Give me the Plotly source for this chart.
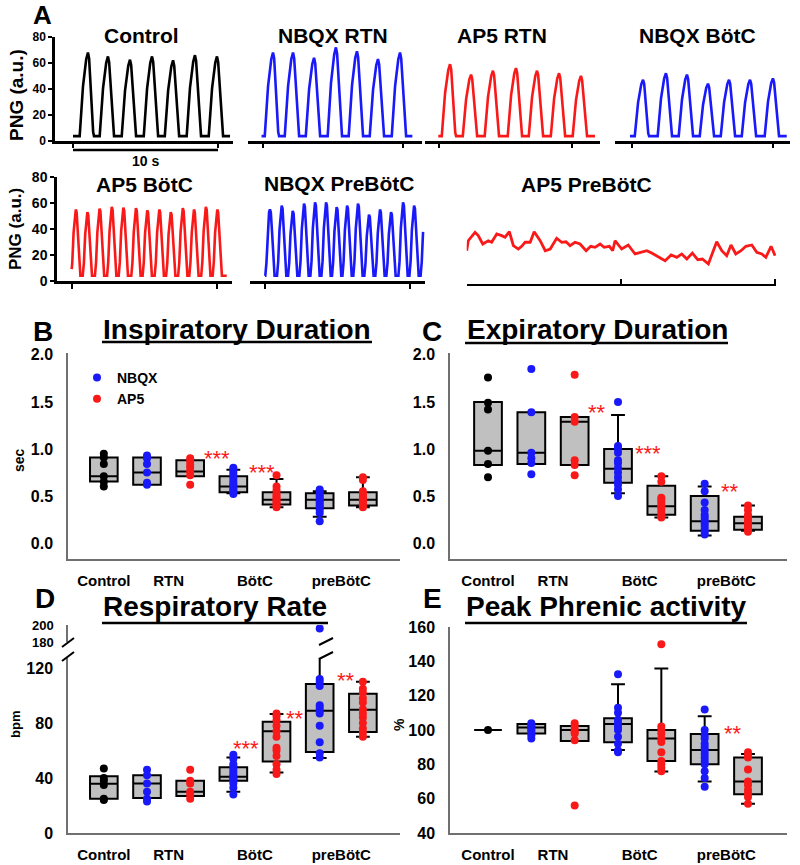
import numpy as np
import plotly.graph_objects as go

W, H = 800, 865
FONT = "Liberation Sans"
BLUE = "rgb(25,25,250)"
RED = "rgb(250,25,25)"
BLACK = "black"
GRAY_FILL = "#c0c0c0"
AXIS_GRAY = "#707070"


def fx(p):
    return p / W


def fy(p):
    return 1 - p / H


def bfont(size, color="black"):
    return dict(family=FONT, size=size, color=color, weight="bold")


# ================= Panel A data: PNG bursts (time s, amplitude a.u.) =================
CTRL_PEAK_T = [1.03, 2.41, 3.93, 5.45, 6.90, 8.41, 9.93]
CTRL_PEAK_A = [68, 65, 62.5, 65, 62, 66, 65]
NBQX_RTN_PEAK_T = [0.69, 2.07, 3.52, 5.03, 6.48, 7.93, 9.45]
NBQX_RTN_PEAK_A = [68, 68, 64, 72, 69, 63, 68]
AP5_RTN_PEAK_T = [0.76, 2.21, 3.72, 5.31, 6.76, 8.28, 9.79]
AP5_RTN_PEAK_A = [59, 51, 54, 56, 54, 52, 50]
NBQX_BOTC_PEAK_T = [0.76, 2.34, 3.79, 5.24, 6.69, 8.14, 9.72]
NBQX_BOTC_PEAK_A = [47, 52, 51, 44, 47, 47, 48]
AP5_BOTC_PEAK_T = [0.28, 1.08, 1.92, 2.76, 3.56, 4.43, 5.21, 6.04, 6.83, 7.66, 8.43, 9.25, 10.04]
AP5_BOTC_PEAK_A = [55, 53, 55.7, 57, 56.5, 56, 54.4, 55, 53, 56, 55, 57, 55]
NBQX_PRE_PEAK_T = [0.34, 1.15, 1.91, 2.69, 3.45, 4.21, 4.94, 5.66, 6.41, 7.17,
                   7.93, 8.69, 9.52, 10.28, 11.05]
NBQX_PRE_PEAK_A = [55, 58, 54, 59.5, 60.4, 60.4, 56.9, 58, 59.5, 51,
                   55, 53, 60.4, 58, 56]

# AP5 PreBötC: irregular low-amplitude activity (time s, a.u.)
AP5_PRE_T = [0.00, 0.10, 0.54, 0.75, 1.04, 1.40, 1.62, 1.95, 2.27, 2.49, 2.77, 3.03,
             3.35, 3.57, 3.79, 4.12, 4.38, 4.77, 5.10, 5.42, 5.84, 6.17, 6.45, 6.71,
             7.03, 7.36, 7.75, 8.05, 8.33, 8.66, 8.92, 9.26, 9.48, 9.63,
             10.06, 10.49, 10.93, 11.25, 11.69, 12.01, 12.34, 12.88, 13.27, 13.64,
             13.96, 14.29, 14.65, 15.00, 15.30, 15.69, 16.01, 16.23, 16.56, 16.88,
             17.16, 17.47, 17.81, 18.12, 18.51, 18.83, 19.16, 19.42, 19.76, 20.02]
AP5_PRE_V = [25.6, 33.3, 39.8, 37.2, 30.8, 33.3, 32.1, 38.5, 37.2, 36.0, 40.2, 29.5,
             26.9, 29.0, 32.1, 32.1, 40.2, 33.3, 25.6, 26.9, 35.2, 32.1, 32.5, 29.5,
             32.1, 30.8, 25.6, 29.0, 28.2, 30.8, 28.2, 29.0, 25.6, 33.3,
             26.9, 30.0, 23.1, 24.4, 25.6, 23.8, 21.8, 17.9, 22.3, 20.5,
             23.1, 19.2, 23.8, 18.7, 19.2, 15.4, 25.6, 32.5, 25.6, 21.8,
             30.0, 23.1, 25.6, 29.0, 30.0, 24.4, 23.1, 20.5, 29.0, 21.8]

PNG_TICKS = [0, 20, 40, 60, 80]

# burst waveform templates (time offset from peak, fraction of peak height)
SLOW_DT = [-0.57, -0.34, -0.12, 0.0, 0.08, 0.36, 0.42]
SLOW_F = [0.0, 0.6, 0.92, 1.0, 0.93, 0.05, 0.0]
FAST_DT = [-0.32, -0.24, -0.15, -0.06, 0.0, 0.06, 0.15, 0.24, 0.32]
FAST_F = [0.0, 0.2, 0.65, 0.96, 1.0, 0.96, 0.65, 0.2, 0.0]

# ================= Panels B-E data =================
POS = [1, 2, 3, 4, 5, 6, 7]
CAT_POS = [1, 2.5, 4.5, 6.5]
CAT_LABELS = ["Control", "RTN", "BötC", "preBötC"]
GROUP = ["ctrl", "nbqx", "ap5", "nbqx", "ap5", "nbqx", "ap5"]

# B: Inspiratory duration (s)
TI_Q1 = [0.655, 0.62, 0.71, 0.54, 0.41, 0.37, 0.40]
TI_MED = [0.71, 0.75, 0.76, 0.60, 0.46, 0.46, 0.46]
TI_Q3 = [0.91, 0.91, 0.88, 0.71, 0.54, 0.53, 0.54]
TI_LO = [0.655, 0.62, 0.71, 0.53, 0.38, 0.28, 0.38]
TI_HI = [0.91, 0.91, 0.88, 0.78, 0.68, 0.55, 0.70]
TI_PTS = [
    [0.95, 0.91, 0.84, 0.71, 0.65, 0.60],
    [0.93, 0.90, 0.84, 0.75, 0.64, 0.62],
    [0.90, 0.87, 0.83, 0.80, 0.76, 0.72, 0.62],
    [0.80, 0.78, 0.75, 0.72, 0.70, 0.67, 0.64, 0.62, 0.60, 0.58, 0.56, 0.54, 0.52],
    [0.72, 0.60, 0.56, 0.52, 0.50, 0.48, 0.46, 0.44, 0.42, 0.40, 0.38],
    [0.57, 0.55, 0.52, 0.50, 0.48, 0.46, 0.44, 0.42, 0.40, 0.38, 0.35, 0.32, 0.23],
    [0.70, 0.67, 0.55, 0.52, 0.50, 0.48, 0.46, 0.44, 0.42, 0.40, 0.38],
]
TI_STARS = [("***", 3.62, 0.96), ("***", 4.66, 0.81)]

# C: Expiratory duration (s)
TE_Q1 = [0.83, 0.84, 0.83, 0.64, 0.30, 0.13, 0.14]
TE_MED = [0.98, 0.96, 1.29, 0.79, 0.39, 0.23, 0.21]
TE_Q3 = [1.50, 1.39, 1.34, 1.00, 0.61, 0.50, 0.28]
TE_LO = [0.83, 0.84, 0.83, 0.53, 0.27, 0.08, 0.13]
TE_HI = [1.50, 1.39, 1.34, 1.36, 0.71, 0.60, 0.40]
TE_PTS = [
    [1.76, 1.49, 1.42, 0.98, 0.84, 0.70],
    [1.85, 1.39, 0.96, 0.90, 0.85, 0.73],
    [1.79, 1.34, 1.29, 0.88, 0.83, 0.72],
    [1.50, 1.03, 1.00, 0.96, 0.88, 0.85, 0.80, 0.75, 0.70, 0.65, 0.62, 0.57, 0.50],
    [0.71, 0.65, 0.48, 0.46, 0.43, 0.40, 0.38, 0.35, 0.32, 0.29, 0.27],
    [0.63, 0.55, 0.43, 0.35, 0.30, 0.27, 0.24, 0.21, 0.18, 0.15, 0.12, 0.09],
    [0.40, 0.35, 0.30, 0.27, 0.24, 0.21, 0.19, 0.17, 0.15, 0.12],
]
TE_STARS = [("**", 3.52, 1.45), ("***", 4.69, 1.02), ("**", 6.58, 0.61)]

# D: Respiratory rate (bpm)
RR_Q1 = [25.0, 25.5, 27, 38, 52, 59, 73.5]
RR_MED = [35.9, 36, 30, 41, 74, 89, 89.7]
RR_Q3 = [41.2, 42, 38, 47.8, 81, 108.4, 101.3]
RR_LO = [25.0, 25.5, 27, 30, 44, 54.5, 70]
RR_HI = [41.2, 42, 38, 55, 86.5, 140, 110]
RR_PTS = [
    [47, 40, 38, 35, 25, 24],
    [46, 42, 36, 30, 25, 23],
    [46, 38, 36, 30, 28, 25],
    [57, 54, 50, 48, 46, 44, 42, 41, 40, 39, 38, 36, 33, 28],
    [87, 85, 82, 78, 74, 70, 62, 60, 56, 50, 46, 43],
    [112, 110, 107, 93, 91, 89, 87, 78, 66, 58, 55, 196],
    [110, 105, 102, 98, 95, 90, 87, 84, 80, 76, 73, 70],
]
RR_STARS = [("***", 4.29, 66), ("**", 5.43, 88), ("**", 6.61, 115.6)]
RR_LOW_TICKS = [0, 40, 80, 120]
RR_HIGH_TICKS = [180, 200]
RR_BREAK = 150  # values above this are drawn on the upper (broken) axis segment

# E: Peak phrenic activity (%)
PK_Q1 = [100, 98, 93.6, 92.8, 82, 80, 62.6]
PK_MED = [100, 101.5, 100, 103.5, 95, 88.4, 70]
PK_Q3 = [100, 103.5, 102.3, 106.8, 100, 97.7, 84]
PK_LO = [100, 98, 93.6, 88.4, 75.8, 70, 57]
PK_HI = [100, 103.5, 102.3, 126.7, 135.8, 108, 86]
PK_PTS = [
    [100],
    [104, 103, 102, 101, 100, 99, 97, 95],
    [104, 102, 100, 99, 98, 94, 56],
    [132.5, 113, 110, 106, 104, 102, 100, 96, 92, 88, 87],
    [150, 102, 100, 98, 95, 93, 87, 82, 80, 78, 76],
    [112, 100, 97, 95, 92, 90, 88, 86, 84, 82, 80, 76, 72, 67],
    [87, 85, 84, 77, 70, 68, 65, 63, 61, 57],
]
PK_STARS = [("**", 6.65, 101.7)]

GROUP_COLOR = {"ctrl": BLACK, "nbqx": BLUE, "ap5": RED}
GROUP_NAME = {"ctrl": "Control", "nbqx": "NBQX", "ap5": "AP5"}


def burst_trace(peak_t, peak_a, base, t0, t1, dts, fs):
    ts, vs = [], []
    for pt, pa in zip(peak_t, peak_a):
        for dt, f in zip(dts, fs):
            ts.append(pt + dt)
            vs.append(base + f * (pa - base))
    ts = np.array(ts)
    vs = np.array(vs)
    order = np.argsort(ts, kind="stable")
    ts, vs = ts[order], vs[order]
    full_t = np.concatenate([[t0 - 50], ts, [t1 + 50]])
    full_v = np.concatenate([[base], vs, [base]])
    grid = np.concatenate([[t0], ts[(ts > t0) & (ts < t1)], [t1]])
    return grid, np.interp(grid, full_t, full_v)


fig = go.Figure()
axes_layout = {}
counter = [0]


def new_axes(xdom, ydom, xcfg, ycfg):
    counter[0] += 1
    n = counter[0]
    s = "" if n == 1 else str(n)
    base = dict(showgrid=False, zeroline=False, fixedrange=True)
    axes_layout["xaxis" + s] = dict(domain=[fx(xdom[0]), fx(xdom[1])], anchor="y" + s, **base, **xcfg)
    axes_layout["yaxis" + s] = dict(domain=[fy(ydom[1]), fy(ydom[0])], anchor="x" + s, **base, **ycfg)
    return "x" + s, "y" + s


# ---------------- Panel A ----------------
PX_PER_S = 14.5
TRACE_PANELS = [
    dict(peaks=(CTRL_PEAK_T, CTRL_PEAK_A), color=BLACK, kind="slow", t=(0, 10.83),
         xdom=(55, 233), ydom=(37, 140.7), zero=73, ticks=[0, 10], yaxis=12),
    dict(peaks=(NBQX_RTN_PEAK_T, NBQX_RTN_PEAK_A), color=BLUE, kind="slow", t=(-0.1, 10.3),
         xdom=(248, 422), ydom=(37, 140.7), zero=263, ticks=[0, 9.66], yaxis=None),
    dict(peaks=(AP5_RTN_PEAK_T, AP5_RTN_PEAK_A), color=RED, kind="slow", t=(-0.05, 10.76),
         xdom=(425, 600), ydom=(37, 140.7), zero=439, ticks=[0, 9.17], yaxis=None),
    dict(peaks=(NBQX_BOTC_PEAK_T, NBQX_BOTC_PEAK_A), color=BLUE, kind="slow", t=(-0.14, 10.67),
         xdom=(615, 790), ydom=(37, 140.7), zero=632, ticks=[0, 9.72], yaxis=None),
    dict(peaks=(AP5_BOTC_PEAK_T, AP5_BOTC_PEAK_A), color=RED, kind="fast", t=(0, 10.69),
         xdom=(57, 232), ydom=(177, 281), zero=71.7, ticks=[0, 10], yaxis=14),
    dict(peaks=(NBQX_PRE_PEAK_T, NBQX_PRE_PEAK_A), color=BLUE, kind="fast", t=(0, 10.9),
         xdom=(250, 425), ydom=(177, 281), zero=265, ticks=[0, 10], yaxis=None),
]

for p in TRACE_PANELS:
    l, r = p["xdom"]
    xr = [(l - p["zero"]) / PX_PER_S, (r - p["zero"]) / PX_PER_S]
    xcfg = dict(range=xr, showline=True, linecolor="black", linewidth=2.5, ticks="outside",
                ticklen=5, tickwidth=1.5, tickcolor="black", tickvals=p["ticks"],
                showticklabels=False)
    if p["yaxis"]:
        ycfg = dict(range=[0, 80], showline=True, linecolor="black", linewidth=2.5,
                    ticks="outside", ticklen=4, tickwidth=1.5, tickcolor="black",
                    tickvals=PNG_TICKS, tickfont=bfont(p["yaxis"]))
    else:
        ycfg = dict(range=[0, 80], visible=False)
    xa, ya = new_axes(p["xdom"], p["ydom"], xcfg, ycfg)
    p["xa"], p["ya"] = xa, ya
    if p["kind"] == "slow":
        tt, vv = burst_trace(p["peaks"][0], p["peaks"][1], 3.5, p["t"][0], p["t"][1], SLOW_DT, SLOW_F)
    else:
        tt, vv = burst_trace(p["peaks"][0], p["peaks"][1], 4.0, p["t"][0], p["t"][1], FAST_DT, FAST_F)
    fig.add_trace(go.Scatter(x=tt, y=vv, mode="lines", line=dict(color=p["color"], width=2.6),
                             xaxis=xa, yaxis=ya, showlegend=False, hoverinfo="skip"))

# AP5 PreBötC panel
xa, ya = new_axes((466.7, 776), (180, 284),
                  dict(range=[0, 20.08], showline=True, linecolor="black", linewidth=2,
                       ticks="inside", ticklen=5, tickwidth=1.5, tickcolor="black",
                       tickvals=[0, 10, 20], showticklabels=False),
                  dict(range=[0, 80], visible=False))
fig.add_trace(go.Scatter(x=AP5_PRE_T, y=AP5_PRE_V, mode="lines", line=dict(color=RED, width=2.8),
                         xaxis=xa, yaxis=ya, showlegend=False, hoverinfo="skip"))

# 10 s scale bar under Control trace
ctrl_x = TRACE_PANELS[0]["xa"]
fig.add_shape(type="line", xref=ctrl_x, yref="paper", x0=0, x1=10, y0=fy(150), y1=fy(150),
              line=dict(color="black", width=2.5))


# ---------------- Panels B-E ----------------
def box_axes_cfg(xr, yr, ytick, yfmt=None, ysize=16):
    xcfg = dict(range=xr, showline=True, linecolor=AXIS_GRAY, linewidth=1.5, ticks="outside",
                ticklen=7, tickcolor="rgba(0,0,0,0)", tickvals=CAT_POS, ticktext=CAT_LABELS,
                tickfont=bfont(15))
    ycfg = dict(range=yr, showline=True, linecolor=AXIS_GRAY, linewidth=1.5, ticks="outside",
                ticklen=10, tickcolor="rgba(0,0,0,0)", tickvals=ytick, tickfont=bfont(ysize))
    if yfmt:
        ycfg["tickformat"] = yfmt
    return xcfg, ycfg


def add_box_panel(xa, ya, q1, med, q3, lo, hi, pts, legend=False, ya_high=None, brk=None):
    fig.add_trace(go.Box(x=POS, q1=q1, median=med, q3=q3, lowerfence=lo, upperfence=hi,
                         xaxis=xa, yaxis=ya, fillcolor=GRAY_FILL,
                         line=dict(color="black", width=2), width=0.64, whiskerwidth=0.5,
                         boxpoints=False, showlegend=False, hoverinfo="skip"))
    for g in ["ctrl", "nbqx", "ap5"]:
        xs, ys, xs_hi, ys_hi = [], [], [], []
        for pos, grp, vals in zip(POS, GROUP, pts):
            if grp != g:
                continue
            for v in vals:
                if brk is not None and v > brk:
                    xs_hi.append(pos)
                    ys_hi.append(v)
                else:
                    xs.append(pos)
                    ys.append(v)
        fig.add_trace(go.Scatter(x=xs, y=ys, mode="markers", xaxis=xa, yaxis=ya,
                                 marker=dict(color=GROUP_COLOR[g], size=8),
                                 name=GROUP_NAME[g], showlegend=legend and g != "ctrl",
                                 hoverinfo="skip"))
        if xs_hi:
            fig.add_trace(go.Scatter(x=xs_hi, y=ys_hi, mode="markers", xaxis=xa, yaxis=ya_high,
                                     marker=dict(color=GROUP_COLOR[g], size=8),
                                     showlegend=False, hoverinfo="skip"))


def add_stars(xa, ya, stars):
    for txt, x, y in stars:
        fig.add_annotation(x=x, y=y, xref=xa, yref=ya, text=txt, showarrow=False,
                           font=dict(family=FONT, size=22, color=RED), yshift=-6)


XR_LEFT = [0.17, 7.86]
XR_RIGHT = [0.123, 7.9]
DUR_TICKS = [0, 0.5, 1.0, 1.5, 2.0]

# B
xc, yc = box_axes_cfg(XR_LEFT, [-0.17, 2.02], DUR_TICKS, ".1f")
xb, yb = new_axes((68, 400), (353, 559), xc, yc)
add_box_panel(xb, yb, TI_Q1, TI_MED, TI_Q3, TI_LO, TI_HI, TI_PTS, legend=True)
add_stars(xb, yb, TI_STARS)

# C
xc, yc = box_axes_cfg(XR_RIGHT, [-0.17, 2.02], DUR_TICKS, ".1f")
xcc, ycc = new_axes((450, 787), (353, 559), xc, yc)
add_box_panel(xcc, ycc, TE_Q1, TE_MED, TE_Q3, TE_LO, TE_HI, TE_PTS)
add_stars(xcc, ycc, TE_STARS)

# D (broken y axis)
xc, yc = box_axes_cfg(XR_LEFT, [0, 127.3], RR_LOW_TICKS)
xd, yd = new_axes((68, 400), (658, 833), xc, yc)
counter[0] += 1
yd_hi_key = "yaxis%d" % counter[0]
yd_hi = "y%d" % counter[0]
axes_layout[yd_hi_key] = dict(domain=[fy(642), fy(625)], anchor=xd, range=[180, 200],
                              showline=True, linecolor=AXIS_GRAY, linewidth=1.5, ticks="outside",
                              ticklen=10, tickcolor="rgba(0,0,0,0)", tickvals=RR_HIGH_TICKS,
                              tickfont=bfont(13), showgrid=False, zeroline=False, fixedrange=True)
add_box_panel(xd, yd, RR_Q1, RR_MED, RR_Q3, RR_LO, RR_HI, RR_PTS, ya_high=yd_hi, brk=RR_BREAK)
add_stars(xd, yd, RR_STARS)

# E
xc, yc = box_axes_cfg(XR_RIGHT, [40, 160], [40, 60, 80, 100, 120, 140, 160])
xe, ye = new_axes((450, 787), (627, 833), xc, yc)
add_box_panel(xe, ye, PK_Q1, PK_MED, PK_Q3, PK_LO, PK_HI, PK_PTS)
add_stars(xe, ye, PK_STARS)

# axis-break marks in D
for (x0, y0, x1, y1) in [(62, 647, 74, 638), (62, 661, 74, 652),
                         (319, 645, 333, 638), (319, 659, 333, 652)]:
    fig.add_shape(type="line", xref="paper", yref="paper", x0=fx(x0), y0=fy(y0),
                  x1=fx(x1), y1=fy(y1), line=dict(color="black", width=2))


# ---------------- Text ----------------
def txt(x, y, s, size, color="black", angle=0, bold=True):
    f = bfont(size, color) if bold else dict(family=FONT, size=size, color=color)
    fig.add_annotation(x=fx(x), y=fy(y), xref="paper", yref="paper", text=s, showarrow=False,
                       font=f, textangle=angle, xanchor="center", yanchor="middle")


txt(42, 15, "A", 26)
for x, y, s in [(141, 35, "Control"), (333, 35, "NBQX RTN"), (502, 35, "AP5 RTN"),
                (697, 35, "NBQX BötC"), (144, 185, "AP5 BötC"), (339, 183, "NBQX PreBötC"),
                (586, 185, "AP5 PreBötC")]:
    txt(x, y, s, 21)
txt(145, 161, "10 s", 14)
txt(16, 95, "PNG (a.u.)", 19, angle=-90)
txt(16, 229, "PNG (a.u.)", 17, angle=-90)

for x, y, s in [(43, 331, "B"), (432, 331, "C"), (45, 598, "D"), (432, 598, "E")]:
    txt(x, y, s, 28)
for x, y, s in [(237, 330, "Inspiratory Duration"), (597, 330, "Expiratory Duration"),
                (215, 606, "Respiratory Rate"), (606, 606, "Peak Phrenic activity")]:
    txt(x, y, s, 28)
for x0, x1, y in [(102, 372, 342), (465, 728, 343), (102, 328, 623), (465, 747, 623)]:
    fig.add_shape(type="line", xref="paper", yref="paper", x0=fx(x0), x1=fx(x1),
                  y0=fy(y), y1=fy(y), line=dict(color="black", width=2.5))
txt(19, 460, "sec", 14, angle=-90)
txt(15, 725, "bpm", 13, angle=-90)
txt(399, 725, "%", 14, angle=-90)

fig.update_layout(
    width=W, height=H, margin=dict(l=0, r=0, t=0, b=0, pad=0, autoexpand=False),
    paper_bgcolor="white", plot_bgcolor="rgba(0,0,0,0)",
    font=dict(family=FONT, color="black"),
    legend=dict(x=fx(77), y=fy(362), xanchor="left", yanchor="top",
                bgcolor="rgba(0,0,0,0)", font=bfont(14), itemwidth=30,
                tracegroupgap=0, itemclick=False, itemdoubleclick=False),
    **axes_layout,
)

fig.write_html("out.html", config={"displayModeBar": False},
               post_script="document.body.style.margin='0px';")
